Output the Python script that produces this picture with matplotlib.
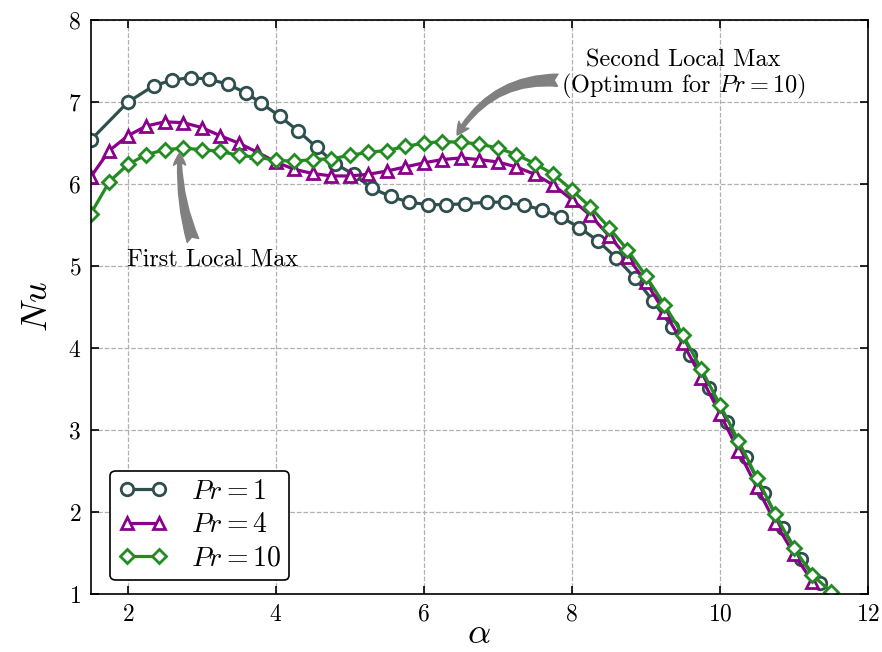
import matplotlib
matplotlib.use("Agg")
import matplotlib.pyplot as plt

plt.rcParams["font.family"] = "serif"
plt.rcParams["font.serif"] = ["cmr10"]
plt.rcParams["mathtext.fontset"] = "cm"
plt.rcParams["axes.formatter.use_mathtext"] = True

# Nusselt number vs alpha for three Prandtl numbers
alpha_pr1 = [1.5, 2.0, 2.35, 2.6, 2.85, 3.1, 3.35, 3.6, 3.8, 4.05, 4.3, 4.55, 4.8,
             5.05, 5.3, 5.55, 5.8, 6.05, 6.3, 6.55, 6.85, 7.1, 7.35, 7.6, 7.85,
             8.1, 8.35, 8.6, 8.85, 9.1, 9.35, 9.6, 9.85, 10.1, 10.35, 10.6, 10.85,
             11.1, 11.35]
nu_pr1 = [6.54, 7.00, 7.20, 7.27, 7.30, 7.28, 7.22, 7.11, 6.99, 6.83, 6.65, 6.45, 6.25,
          6.12, 5.95, 5.85, 5.78, 5.75, 5.75, 5.76, 5.78, 5.78, 5.74, 5.69, 5.60,
          5.47, 5.31, 5.10, 4.86, 4.57, 4.26, 3.91, 3.51, 3.10, 2.67, 2.23, 1.80,
          1.43, 1.13]

alpha_pr4 = [1.5, 1.75, 2.0, 2.25, 2.5, 2.75, 3.0, 3.25, 3.5, 3.75, 4.0, 4.25, 4.5,
             4.75, 5.0, 5.25, 5.5, 5.75, 6.0, 6.25, 6.5, 6.75, 7.0, 7.25, 7.5,
             7.75, 8.0, 8.25, 8.5, 8.75, 9.0, 9.25, 9.5, 9.75, 10.0, 10.25, 10.5,
             10.75, 11.0, 11.25]
nu_pr4 = [6.09, 6.41, 6.59, 6.71, 6.76, 6.75, 6.69, 6.59, 6.50, 6.39, 6.27, 6.18, 6.13,
          6.10, 6.10, 6.12, 6.16, 6.21, 6.26, 6.30, 6.32, 6.30, 6.27, 6.21, 6.12,
          5.99, 5.81, 5.62, 5.37, 5.11, 4.81, 4.44, 4.06, 3.64, 3.20, 2.75, 2.30,
          1.87, 1.49, 1.15]

alpha_pr10 = [1.5, 1.75, 2.0, 2.25, 2.5, 2.75, 3.0, 3.25, 3.5, 3.75, 4.0, 4.25, 4.5,
              4.75, 5.0, 5.25, 5.5, 5.75, 6.0, 6.25, 6.5, 6.75, 7.0, 7.25, 7.5,
              7.75, 8.0, 8.25, 8.5, 8.75, 9.0, 9.25, 9.5, 9.75, 10.0, 10.25, 10.5,
              10.75, 11.0, 11.25, 11.5]
nu_pr10 = [5.64, 6.03, 6.24, 6.36, 6.42, 6.44, 6.42, 6.40, 6.35, 6.33, 6.29, 6.28, 6.30,
           6.31, 6.35, 6.39, 6.41, 6.46, 6.50, 6.52, 6.51, 6.49, 6.44, 6.36, 6.25,
           6.12, 5.93, 5.72, 5.47, 5.20, 4.88, 4.53, 4.16, 3.74, 3.31, 2.87, 2.42,
           1.97, 1.56, 1.23, 1.03]

series = [
    (alpha_pr1, nu_pr1, "o", "#2f4f4f", r"$Pr = 1$"),
    (alpha_pr4, nu_pr4, "^", "#8b008b", r"$Pr = 4$"),
    (alpha_pr10, nu_pr10, "D", "#228b22", r"$Pr = 10$"),
]

fig = plt.figure(figsize=(8.82, 6.52), dpi=100)
ax = fig.add_axes([0.103, 0.089, 0.881, 0.880])

for x, y, m, c, lab in series:
    ms = 7.5 if m == "D" else 9
    ax.plot(x, y, marker=m, color=c, lw=2.3, ms=ms, mfc="white", mec=c, mew=2,
            label=lab)

ax.set_xlim(1.5, 12)
ax.set_ylim(1, 8)
ax.set_xticks([2, 4, 6, 8, 10, 12])
ax.set_yticks([1, 2, 3, 4, 5, 6, 7, 8])
ax.tick_params(direction="in", top=True, right=True, length=6, width=1.2,
               labelsize=17, pad=7)
ax.grid(True, linestyle="--", color="#b0b0b0", lw=0.9)
for sp in ax.spines.values():
    sp.set_linewidth(1.2)

ax.set_xlabel(r"$\alpha$", fontsize=26, labelpad=-5)
ax.set_ylabel(r"$Nu$", fontsize=26, labelpad=10)

arrow = "fancy,head_length=0.5,head_width=0.5,tail_width=0.5"
ax.annotate("First Local Max", xy=(2.7, 6.38), xytext=(3.15, 5.08),
            fontsize=17.5, ha="center", va="center",
            arrowprops=dict(arrowstyle=arrow, color="gray",
                            connectionstyle="arc3,rad=-0.1",
                            relpos=(0.4, 1.0), shrinkA=4, shrinkB=0))
ax.annotate("Second Local Max\n" + r"(Optimum for $Pr = 10$)",
            xy=(6.45, 6.6), xytext=(9.5, 7.33),
            fontsize=17.5, ha="center", va="center", linespacing=1.05,
            arrowprops=dict(arrowstyle=arrow, color="gray",
                            connectionstyle="arc3,rad=0.3",
                            relpos=(0.0, 0.4), shrinkA=0, shrinkB=0))

leg = ax.legend(loc="lower left", fontsize=20, numpoints=2, handlelength=1.75,
                borderpad=0.3, labelspacing=0.25, handletextpad=0.85,
                bbox_to_anchor=(0.007, 0.0), framealpha=1, fancybox=True)
leg.get_frame().set_edgecolor("black")
leg.get_frame().set_linewidth(1.2)

fig.savefig("out.png", dpi=100)
